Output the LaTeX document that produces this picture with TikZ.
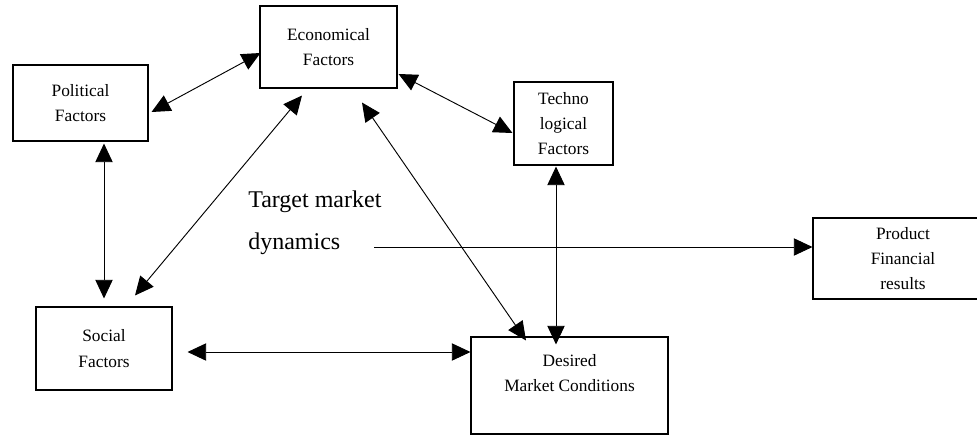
\documentclass[tikz,border=0pt]{standalone}
\usepackage{fontspec}
\setmainfont{Liberation Serif}
\usetikzlibrary{arrows.meta,positioning,calc}

\begin{document}
\begin{tikzpicture}[x=0.75pt,y=-0.75pt,
  factor/.style={draw,line width=0.8pt,align=center,inner sep=0pt,font=\fontsize{13}{19}\selectfont},
  both/.style={line width=0.7pt,{Triangle[length=14pt,width=13pt]}-{Triangle[length=14pt,width=13pt]}},
  one/.style={line width=0.7pt,-{Triangle[length=14pt,width=13pt]}}]
  \clip (0,0) rectangle (977,435);

  % Factor boxes
  \node[factor,minimum width=102.75pt,minimum height=61.5pt] (econ) at (328.5,47) {Economical\\Factors};
  \node[factor,minimum width=101.25pt,minimum height=57pt] (polit) at (80.5,103) {Political\\Factors};
  \node[factor,minimum width=74.25pt,minimum height=62.25pt] (techno) at (563.5,123.5) {Techno\\logical\\Factors};
  \node[factor,minimum width=102pt,minimum height=62.25pt] (social) at (104,348.5) {Social\\Factors};

  % Desired conditions and results
  \node[factor,minimum width=147.75pt,minimum height=72.75pt] (desired) at (569.5,385.5) {Desired\\Market Conditions\\\mbox{}};
  \node[factor,minimum width=135pt,minimum height=60.75pt] (product) at (903,258.5) {Product\\Financial\\results};

  % Target market dynamics
  \node[align=left,inner sep=0pt,anchor=base west,font=\fontsize{18}{31.5}\selectfont] (dyn) at (248,249) {Target market\\dynamics};
  \coordinate (dynout) at (374,247);

  % Links between the factors
  \draw[both] ([shift={(3,9)}]polit.east) -- ([shift={(1,6)}]econ.west);
  \draw[both] ([shift={(23.5,2)}]polit.south) -- ([shift={(0,-8)}]social.north);
  \draw[both] ([shift={(-26.5,7)}]econ.south) -- ([shift={(31,-11)}]social.north);
  \draw[both] ([shift={(33.5,14)}]econ.south) -- ([shift={(-43.5,4)}]desired.north);
  \draw[both] ([shift={(1,27)}]econ.east) -- ([shift={(-1,9.5)}]techno.west);
  \draw[both] ([shift={(-7.5,1)}]techno.south) -- ([shift={(-13.5,8)}]desired.north);
  \draw[both] ([shift={(15,3.5)}]social.east) -- ([shift={(0,-33.5)}]desired.west);

  % Into the results
  \draw[one] (dynout) -- ([shift={(0,-11.5)}]product.west);
\end{tikzpicture}
\end{document}
